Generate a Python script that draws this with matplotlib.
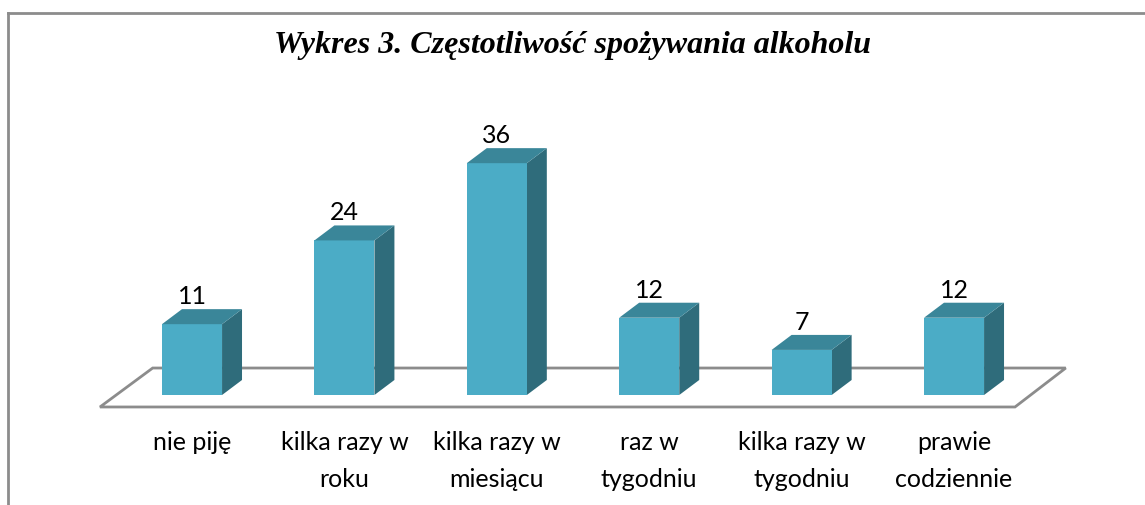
import numpy as np
import matplotlib
matplotlib.use("Agg")
import matplotlib.pyplot as plt
from matplotlib.patches import Polygon

kategorie = ["nie piję", "kilka razy w\nroku", "kilka razy w\nmiesiącu",
             "raz w\ntygodniu", "kilka razy w\ntygodniu", "prawie\ncodziennie"]
wartosci = [11, 24, 36, 12, 7, 12]
tytul = "Wykres 3. Częstotliwość spożywania alkoholu"

kolor_przod = "#4bacc6"
kolor_gora = "#3a8699"
kolor_bok = "#2f6c7b"

W, H = 1145, 506
fig = plt.figure(figsize=(W / 100, H / 100), dpi=100)
ax = fig.add_axes([0, 0, 1, 1])
ax.set_xlim(-1.260, 6.253)
ax.set_ylim(-17.08, 61.49)
ax.axis("off")

szer = 0.394      # szerokosc przodu slupka
gx, gy = 0.131, 2.33  # glebokosc (przesuniecie 3D)

# podloga
podloga = Polygon([(-0.604, -1.86), (5.40, -1.86), (5.733, 4.19), (-0.258, 4.19)],
                  closed=True, facecolor="white", edgecolor="#8c8c8c", lw=2, zorder=1)
ax.add_patch(podloga)

x = np.arange(len(wartosci))
for xi, v in zip(x, wartosci):
    l, r = xi - szer / 2, xi + szer / 2
    przod = Polygon([(l, 0), (r, 0), (r, v), (l, v)], closed=True,
                    facecolor=kolor_przod, edgecolor="none", zorder=3)
    gora = Polygon([(l, v), (r, v), (r + gx, v + gy), (l + gx, v + gy)], closed=True,
                   facecolor=kolor_gora, edgecolor="none", zorder=3)
    bok = Polygon([(r, 0), (r + gx, gy), (r + gx, v + gy), (r, v)], closed=True,
                  facecolor=kolor_bok, edgecolor="none", zorder=3)
    for p in (bok, przod, gora):
        ax.add_patch(p)
    ax.text(xi, v + gy + 0.93, str(v), ha="center", va="baseline",
            fontsize=18, family="Lato", color="black")
    ax.text(xi, -5.5, kategorie[xi], ha="center", va="top", fontsize=18,
            family="Lato", linespacing=1.7, color="black")

fig.text(0.5, 1 - 45 / H, tytul, ha="center", va="center", fontsize=23,
         family="Liberation Serif", fontweight="bold", style="italic")

# ramka wykresu
fig.add_artist(plt.Line2D([7.5 / W, 1.0], [1 - 13.5 / H, 1 - 13.5 / H],
                          color="#8c8c8c", lw=2, transform=fig.transFigure))
fig.add_artist(plt.Line2D([7.5 / W, 7.5 / W], [0, 1 - 13.5 / H],
                          color="#8c8c8c", lw=2, transform=fig.transFigure))

fig.savefig("out.png", dpi=100)
